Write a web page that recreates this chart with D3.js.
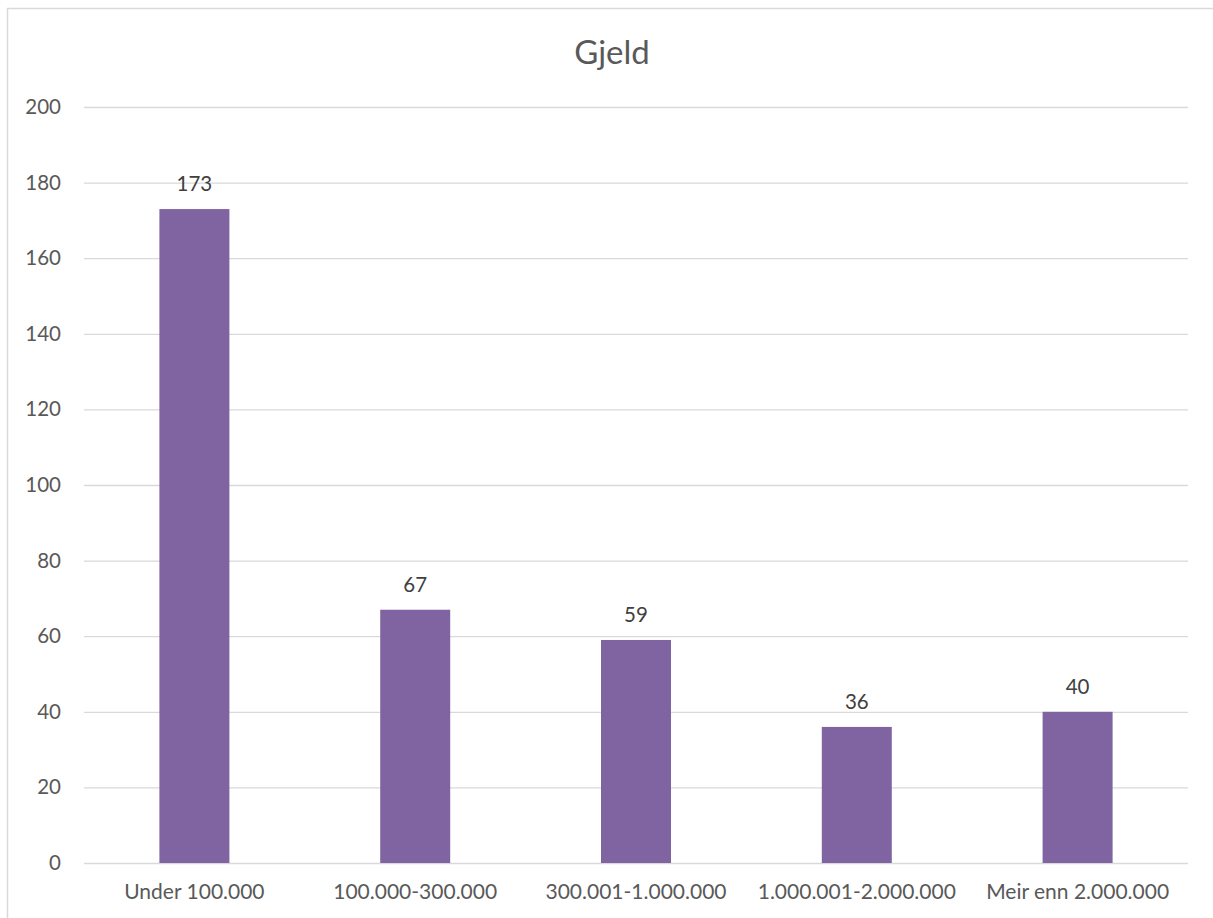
<!DOCTYPE html>
<html><head><meta charset="utf-8">
<script src="https://cdn.jsdelivr.net/npm/d3@7"></script>
<style>body{margin:0;background:#fff}svg{display:block}</style>
</head><body>
<script>
const categories = ["Under 100.000","100.000-300.000","300.001-1.000.000","1.000.001-2.000.000","Meir enn 2.000.000"];
const values = [173, 67, 59, 36, 40];
const yTicks = [0,20,40,60,80,100,120,140,160,180,200];
const title = "Gjeld";

(function(){
const W = 1213, H = 918;
const font = "Lato, 'Open Sans', sans-serif";
const svg = d3.select("body").append("svg").attr("width", W).attr("height", H);

// chart frame
svg.append("path").attr("d", `M7.5,${H} V8.5 H${W}`).attr("fill","none").attr("stroke","#d9d9d9").attr("stroke-width",1.5);

const pLeft = 84, pRight = 1188, pTop = 107, pBottom = 863;
const x = d3.scaleBand().domain(categories).range([pLeft, pRight]).paddingInner(0.683).paddingOuter(0.3415);
const y = d3.scaleLinear().domain([0,200]).range([pBottom, pTop]);

svg.append("text").attr("x", 612).attr("y", 64).attr("text-anchor","middle")
  .attr("font-family", font).attr("font-size", 33).attr("fill","#595959").text(title);

// grid
svg.append("g").selectAll("line").data(yTicks).join("line")
  .attr("x1", pLeft).attr("x2", pRight).attr("y1", d=>y(d)+0.5).attr("y2", d=>y(d)+0.5)
  .attr("stroke","#d9d9d9").attr("stroke-width",1.3);

const yAxis = svg.append("g").attr("transform", `translate(${pLeft},0)`)
  .call(d3.axisLeft(y).tickValues(yTicks).tickSize(0).tickPadding(23));
yAxis.select(".domain").remove();
yAxis.selectAll("text").attr("font-family", font).attr("font-size", 20.5).attr("fill","#595959");

svg.append("g").selectAll("rect").data(values).join("rect")
  .attr("x", (d,i)=>x(categories[i])).attr("width", x.bandwidth())
  .attr("y", d=>y(d)).attr("height", d=>y(0)-y(d)).attr("fill","#8064a2");

svg.append("g").selectAll("text").data(values).join("text")
  .attr("x", (d,i)=>x(categories[i]) + x.bandwidth()/2).attr("y", d=>y(d)-18)
  .attr("text-anchor","middle").attr("font-family", font).attr("font-size", 20.5).attr("fill","#404040").text(d=>d);

const xAxis = svg.append("g").attr("transform", `translate(0,${pBottom})`)
  .call(d3.axisBottom(x).tickSize(0).tickPadding(21));
xAxis.select(".domain").remove();
xAxis.selectAll("text").attr("font-family", font).attr("font-size", 21).attr("fill","#595959");
})();
</script>
</body></html>
